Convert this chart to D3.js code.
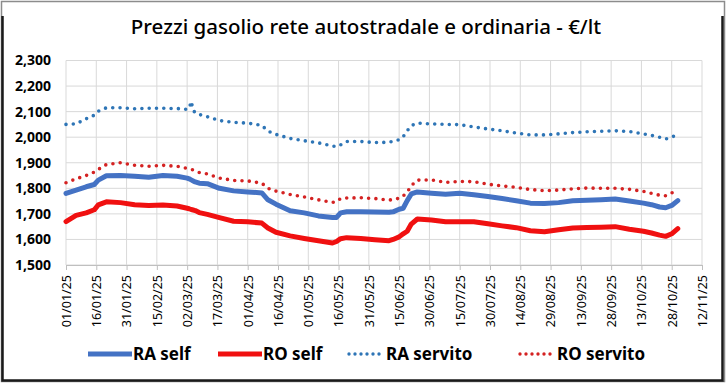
<!DOCTYPE html>
<html>
<head>
<meta charset="utf-8">
<script src="https://cdn.jsdelivr.net/npm/d3@7"></script>
<style>
  body { margin: 0; background: #fff; }
  svg { display: block; font-family: "Noto Sans", sans-serif; }
</style>
</head>
<body>
<svg width="726" height="383"></svg>
<script>
// chart data

var title = "Prezzi gasolio rete autostradale e ordinaria - €/lt";

var dates = [
  "2025-01-01","2025-01-06","2025-01-11","2025-01-15","2025-01-17","2025-01-21","2025-01-28","2025-02-04","2025-02-11","2025-02-18",
  "2025-02-25","2025-03-02","2025-03-03","2025-03-04","2025-03-05","2025-03-06","2025-03-08","2025-03-12","2025-03-18","2025-03-25",
  "2025-04-01","2025-04-08","2025-04-11","2025-04-15","2025-04-22","2025-04-29","2025-05-06","2025-05-13","2025-05-15","2025-05-17",
  "2025-05-20","2025-05-27","2025-06-03","2025-06-10","2025-06-12","2025-06-15","2025-06-17","2025-06-19","2025-06-21","2025-06-24",
  "2025-07-01","2025-07-08","2025-07-15","2025-07-22","2025-07-29","2025-08-05","2025-08-12","2025-08-19","2025-08-26","2025-09-02",
  "2025-09-09","2025-09-16","2025-09-23","2025-09-30","2025-10-07","2025-10-14","2025-10-18","2025-10-22","2025-10-25","2025-10-28",
  "2025-10-31"
];

var raSelf = [
  1780,1793,1806,1815,1832,1849,1850,1847,1843,1850,
  1847,1840,1837,1833,1829,1825,1820,1818,1800,1790,
  1786,1782,1755,1738,1712,1704,1692,1686,1686,1704,
  1708,1708,1707,1706,1708,1718,1722,1752,1778,1786,
  1781,1777,1781,1775,1768,1760,1751,1742,1741,1744,
  1751,1753,1755,1758,1750,1742,1736,1727,1724,1733,
  1752
];

var roSelf = [
  1670,1694,1704,1716,1735,1747,1744,1736,1733,1735,
  1731,1722,1720,1717,1715,1713,1705,1698,1685,1671,
  1669,1664,1645,1628,1614,1604,1595,1586,1592,1603,
  1607,1604,1599,1595,1600,1610,1622,1632,1660,1680,
  1676,1669,1669,1669,1661,1653,1646,1634,1630,1638,
  1645,1647,1648,1650,1640,1632,1625,1617,1612,1622,
  1642
];

var raServito = [
  2050,2052,2072,2086,2102,2115,2115,2111,2113,2113,
  2112,2109,2112,2140,2106,2095,2089,2080,2065,2058,
  2055,2046,2024,2011,1995,1986,1978,1965,1963,1970,
  1983,1983,1979,1980,1984,1990,2002,2025,2045,2055,
  2052,2050,2049,2040,2032,2025,2016,2009,2009,2013,
  2018,2021,2023,2025,2022,2013,2007,2000,1993,2000,
  2011
];

var roServito = [
  1822,1837,1850,1863,1874,1893,1900,1890,1886,1890,
  1886,1878,1876,1874,1872,1869,1862,1856,1840,1831,
  1829,1820,1800,1789,1776,1766,1755,1745,1748,1760,
  1762,1763,1760,1754,1756,1761,1770,1785,1810,1832,
  1833,1823,1827,1826,1816,1809,1804,1795,1791,1793,
  1798,1801,1800,1800,1796,1788,1780,1773,1771,1782,
  1790
];

var xTickLabels = [
  "01/01/25","16/01/25","31/01/25","15/02/25","02/03/25","17/03/25","01/04/25","16/04/25",
  "01/05/25","16/05/25","31/05/25","15/06/25","30/06/25","15/07/25","30/07/25","14/08/25",
  "29/08/25","13/09/25","28/09/25","13/10/25","28/10/25","12/11/25"
];

var yTicks = [1500, 1600, 1700, 1800, 1900, 2000, 2100, 2200, 2300];

var seriesNames = ["RA self", "RO self", "RA servito", "RO servito"];
var seriesValues = [raSelf, roSelf, raServito, roServito];
var seriesStyle = [
  { color: "#4472C4", width: 5,   dash: null },
  { color: "#F01010", width: 5,   dash: null },
  { color: "#2E75B6", width: 3.6, dash: "0 7.3" },
  { color: "#D42222", width: 3.6, dash: "0 7.3" }
];

// setup (note: "top" is a reserved window prop, so use plot* names)

var svg = d3.select("svg");
var W = 726, H = 383;
var plotL = 66, plotR = 702, plotT = 60.5, plotB = 265;

var parseDate = d3.utcParse("%Y-%m-%d");
var parseTick = d3.utcParse("%d/%m/%y");
var tickDates = xTickLabels.map(parseTick);

var x = d3.scaleUtc()
    .domain([tickDates[0], tickDates[tickDates.length - 1]])
    .range([plotL, plotR]);

var y = d3.scaleLinear()
    .domain([yTicks[0], yTicks[yTicks.length - 1]])
    .range([plotB, plotT]);

// background + frame
svg.append("rect").attr("width", W).attr("height", H).attr("fill", "#fff");
svg.append("rect")
    .attr("x", 1.5).attr("y", 1.5).attr("width", W - 3).attr("height", H - 3)
    .attr("fill", "none").attr("stroke", "#8c8c8c").attr("stroke-width", 1.5);
svg.append("path")
    .attr("d", "M2.5,16 V380.5 H722.5 V16")
    .attr("fill", "none").attr("stroke", "#1a1a1a").attr("stroke-width", 2.5);

// title
svg.append("text")
    .attr("x", 366).attr("y", 34)
    .attr("text-anchor", "middle")
    .attr("font-size", 20.5)
    .attr("font-weight", 500)
    .attr("fill", "#000")
    .text(title);

// grid
var grid = svg.append("g").attr("class", "grid");
grid.selectAll("line.h")
    .data(yTicks)
    .enter().append("line")
    .attr("class", "h")
    .attr("x1", plotL).attr("x2", plotR)
    .attr("y1", function(d) { return y(d); })
    .attr("y2", function(d) { return y(d); })
    .attr("stroke", "#d9d9d9").attr("stroke-width", 1);

grid.selectAll("line.v")
    .data(tickDates)
    .enter().append("line")
    .attr("class", "v")
    .attr("x1", function(d) { return x(d); })
    .attr("x2", function(d) { return x(d); })
    .attr("y1", plotT).attr("y2", plotB)
    .attr("stroke", "#d9d9d9").attr("stroke-width", 1);

// x axis
var xAxis = svg.append("g")
    .attr("transform", "translate(0," + plotB + ")")
    .call(d3.axisBottom(x)
      .tickValues(tickDates)
      .tickSize(5)
      .tickFormat(d3.utcFormat("%d/%m/%y")));
xAxis.select(".domain").attr("stroke", "#bfbfbf");
xAxis.selectAll(".tick line").attr("stroke", "#bfbfbf");
xAxis.selectAll(".tick text")
    .attr("font-family", "Noto Sans, sans-serif")
    .attr("font-size", 12.5)
    .attr("fill", "#000")
    .attr("text-anchor", "end")
    .attr("transform", "rotate(-90)")
    .attr("x", -10).attr("y", 0).attr("dy", "0.35em");

// y axis
var yAxis = svg.append("g")
    .attr("transform", "translate(" + plotL + ",0)")
    .call(d3.axisLeft(y)
      .tickValues(yTicks)
      .tickSize(0)
      .tickPadding(15)
      .tickFormat(d3.format(",")));
yAxis.select(".domain").remove();
yAxis.selectAll(".tick text")
    .attr("font-family", "Noto Sans, sans-serif")
    .attr("font-size", 14)
    .attr("font-weight", "bold")
    .attr("fill", "#000");

// lines
var line = d3.line()
    .x(function(d) { return x(d.date); })
    .y(function(d) { return y(d.value); });

seriesValues.forEach(function(vals, i) {
  var pts = dates.map(function(d, k) { return { date: parseDate(d), value: vals[k] }; });
  var s = seriesStyle[i];
  svg.append("path")
      .datum(pts)
      .attr("fill", "none")
      .attr("stroke", s.color)
      .attr("stroke-width", s.width)
      .attr("stroke-linejoin", "round")
      .attr("stroke-linecap", "round")
      .attr("stroke-dasharray", s.dash)
      .attr("d", line);
});

// legend
var legendX = [88, 218, 347, 518];
var legendY = 354;
var legend = svg.append("g").attr("class", "legend");
seriesNames.forEach(function(name, i) {
  var s = seriesStyle[i];
  var lx = legendX[i];
  var lw = s.dash ? 33 : 44;
  legend.append("line")
      .attr("x1", lx + (s.dash ? 2 : 0)).attr("x2", lx + lw)
      .attr("y1", legendY).attr("y2", legendY)
      .attr("stroke", s.color)
      .attr("stroke-width", s.dash ? 3.4 : 5)
      .attr("stroke-linecap", s.dash ? "round" : "butt")
      .attr("stroke-dasharray", s.dash ? "0 6" : null);
  legend.append("text")
      .attr("x", lx + lw + (s.dash ? 6 : 1))
      .attr("y", legendY)
      .attr("dy", "0.36em")
      .attr("font-size", 17)
      .attr("font-weight", "bold")
      .attr("fill", "#000")
      .text(name);
});
</script>
</body>
</html>
